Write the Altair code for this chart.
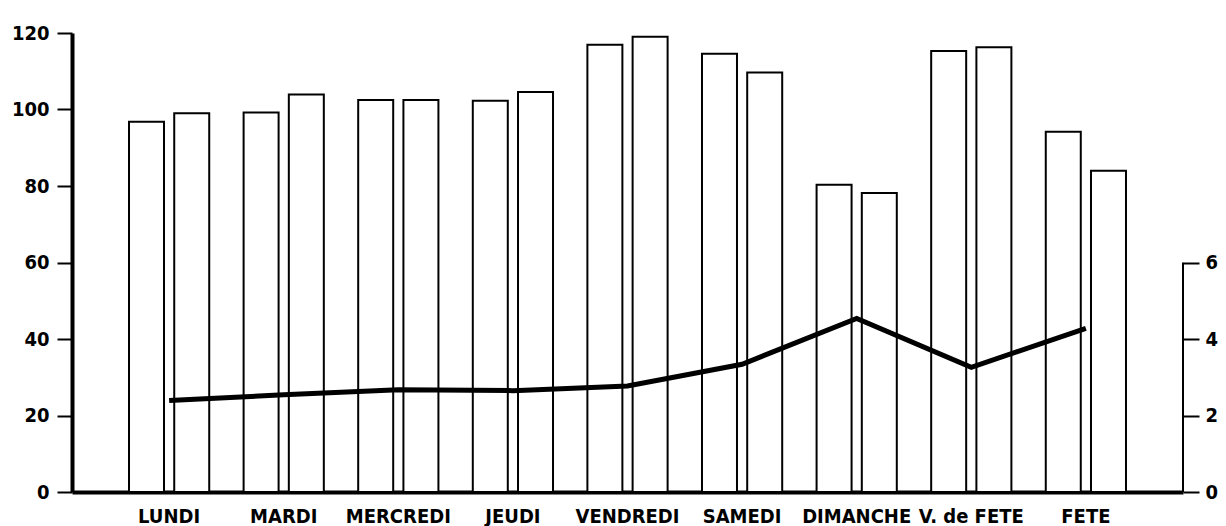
import altair as alt
import pandas as pd

days = ["LUNDI", "MARDI", "MERCREDI", "JEUDI", "VENDREDI", "SAMEDI",
        "DIMANCHE", "V. de FETE", "FETE"]
bar_first = [96.8, 99.2, 102.5, 102.3, 116.9, 114.6, 80.3, 115.3, 94.2]
bar_second = [99.0, 103.9, 102.5, 104.6, 119.0, 109.7, 78.2, 116.3, 84.0]
line_values = [2.39, 2.54, 2.67, 2.65, 2.77, 3.34, 4.54, 3.26, 4.28]
left_ticks = [0, 20, 40, 60, 80, 100, 120]
right_ticks = [0, 2, 4, 6]

rows = []
for d, a, b in zip(days, bar_first, bar_second):
    rows.append({"day": d, "serie": "1", "value": a})
    rows.append({"day": d, "serie": "2", "value": b})
bars_df = pd.DataFrame(rows)
line_df = pd.DataFrame({"day": days, "ratio": line_values})
rule_df = pd.DataFrame({"lo": [right_ticks[0]], "hi": [right_ticks[-1]]})

FONT = "DejaVu Sans Condensed"
right_scale = alt.Scale(domain=[0, 12], nice=False)

x_enc = alt.X("day:N", sort=days, title=None,
              scale=alt.Scale(paddingInner=0.30, paddingOuter=0.4975),
              axis=alt.Axis(labelAngle=0, ticks=False, tickSize=0, labelPadding=14,
                            labelFont=FONT, labelFontSize=20, labelFontWeight="bold",
                            labelColor="black", domainColor="black", domainWidth=4))

bars = alt.Chart(bars_df).mark_bar(fill="white", stroke="black", strokeWidth=2).encode(
    x=x_enc,
    xOffset=alt.XOffset("serie:N", scale=alt.Scale(paddingInner=0.226, paddingOuter=0)),
    y=alt.Y("value:Q", title=None,
            scale=alt.Scale(domain=[0, 120], nice=False),
            axis=alt.Axis(values=left_ticks, grid=False, tickSize=15, tickWidth=2,
                          tickColor="black", domainColor="black", domainWidth=4,
                          labelFont=FONT, labelFontSize=20, labelFontWeight="bold",
                          labelColor="black", labelPadding=8)),
)

right_axis = alt.Axis(orient="right", values=right_ticks, grid=False, domain=False,
                      tickSize=16, tickWidth=2, tickColor="black",
                      labelFont=FONT, labelFontSize=20, labelFontWeight="bold",
                      labelColor="black", labelPadding=6)

line = alt.Chart(line_df).mark_line(color="black", strokeWidth=5).encode(
    x=alt.X("day:N", sort=days),
    y=alt.Y("ratio:Q", title=None, scale=right_scale, axis=right_axis),
)

right_rule = alt.Chart(rule_df).mark_rule(color="black", strokeWidth=2).encode(
    x=alt.value(1111),
    y=alt.Y("lo:Q", title=None, scale=right_scale, axis=right_axis),
    y2="hi:Q",
)

chart = alt.layer(bars, alt.layer(line, right_rule)).resolve_scale(
    y="independent"
).properties(
    width=1111, height=459,
    background="white",
    autosize=alt.AutoSizeParams(type="none"),
    padding={"left": 64, "top": 25, "right": 35, "bottom": 34},
).configure_view(strokeWidth=0, stroke="transparent")

chart.save("out.html", embed_options={"renderer": "svg", "actions": False})
